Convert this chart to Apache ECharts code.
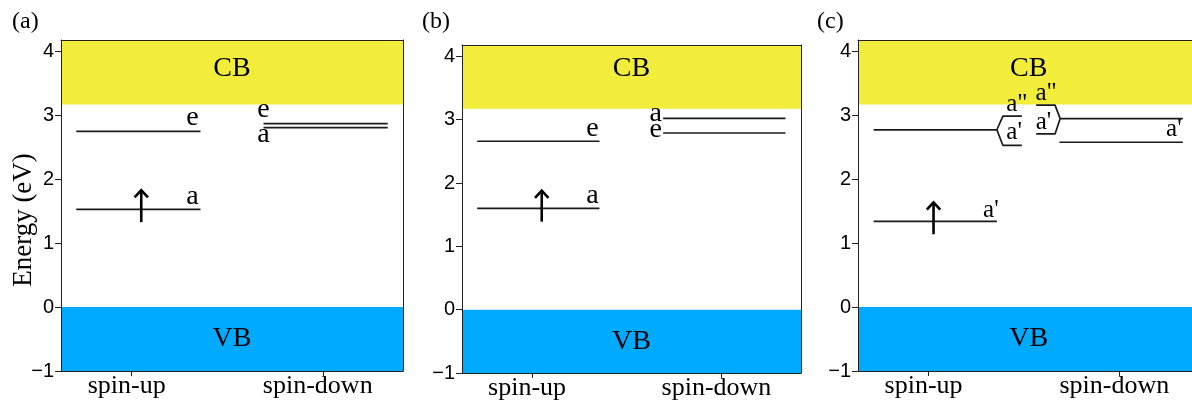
<!DOCTYPE html>
<html><head><meta charset="utf-8">
<script src="https://cdn.jsdelivr.net/npm/echarts@6/dist/echarts.min.js"></script>
<style>html,body{margin:0;padding:0;background:#fff}#c{width:1192px;height:403px}</style>
</head><body><div id="c"></div>
<script>
// ---------------- data ----------------
const panelNames = ['(a)', '(b)', '(c)'];
const xCategories = ['spin-up', 'spin-down'];   // at x = 0 and x = 1
const yTicks = [-1, 0, 1, 2, 3, 4];
const energyMin = -1, energyMax = 4.18;
const xMin = -0.37, xMax = [1.42, 1.42, 1.381];
const vbBand = [-1, 0];
const cbBottom = [3.17, 3.175, 3.17];
const cbLabelE = [3.73, 3.81, 3.73];
const vbLabelE = [-0.5, -0.5, -0.5];

// level paths: list of [x, energy] points (spin-up around x=0, spin-down around x=1)
const levelsA = [
  [[-0.29, 2.75], [0.36, 2.75]],
  [[-0.29, 1.53], [0.36, 1.53]],
  [[0.69, 2.87], [1.34, 2.87]],
  [[0.69, 2.81], [1.34, 2.81]]
];
const labelsA = [[0.36, 2.75, 'e'], [0.36, 1.53, 'a'], [0.69, 2.87, 'e'], [0.69, 2.81, 'a']];
const arrowA = [0.05, 1.33, 1.83];

const levelsB = [
  [[-0.29, 2.66], [0.356, 2.66]],
  [[-0.29, 1.60], [0.356, 1.60]],
  [[0.692, 3.02], [1.338, 3.02]],
  [[0.692, 2.79], [1.338, 2.79]]
];
const labelsB = [[0.356, 2.66, 'e'], [0.356, 1.60, 'a'], [0.692, 3.02, 'a'], [0.692, 2.79, 'e']];
const arrowB = [0.051, 1.39, 1.88];

const levelsC = [
  [[-0.288, 1.34], [0.358, 1.34]],
  [[-0.288, 2.775], [0.358, 2.775]],
  [[0.358, 2.775], [0.39, 2.99], [0.489, 2.99]],
  [[0.358, 2.775], [0.39, 2.53], [0.489, 2.53]],
  [[0.69, 2.95], [1.333, 2.95]],
  [[0.564, 3.16], [0.663, 3.16], [0.69, 2.95]],
  [[0.564, 2.71], [0.663, 2.71], [0.69, 2.95]],
  [[0.686, 2.58], [1.333, 2.58]]
];
const labelsC = [[0.358, 1.34, "a'"], [0.489, 2.99, 'a"'], [0.489, 2.53, "a'"],
                 [0.564, 3.16, 'a"'], [0.564, 2.71, "a'"], [1.333, 2.58, "a'"]];
const arrowC = [0.026, 1.14, 1.64];

// ---------------- styles ----------------
const labelOffsets = [
  [[-8, -14], [-8, -13], [0, -14], [0, 7]],
  [[-7, -13], [-7, -13], [-7.5, -4.7], [-7.5, -3.5]],
  [[-6, -11.4], [-5, -12], [-7.7, -13], [10, -11.3], [7.3, -11.8], [-9, -13.3]]
];
const labelFont = [28, 28, 25];
const grids = [
  {left: 61, right: 789, top: 40, bottom: 32},
  {left: 462, right: 391, top: 45, bottom: 30},
  {left: 858, right: 0, top: 40, bottom: 32}
];
const showRightSpine = [true, true, false];
const titlePos = [[12, 9.5], [422, 9.5], [817, 9.5]];
const SERIF = '"Liberation Serif", "Times New Roman", serif';
const SANS = '"Liberation Sans", Arial, sans-serif';
const YELLOW = '#F2EC3A', BLUE = '#00AAFF', INK = '#1a1a1a';

const panels = [
  {levels: levelsA, labels: labelsA, arrow: arrowA},
  {levels: levelsB, labels: labelsB, arrow: arrowB},
  {levels: levelsC, labels: labelsC, arrow: arrowC}
];

const xAxes = [], yAxes = [], series = [], titles = [];
panels.forEach((p, i) => {
  titles.push({text: panelNames[i], left: titlePos[i][0], top: titlePos[i][1], padding: 0,
    textStyle: {fontFamily: SERIF, fontSize: 24, fontWeight: 'normal', color: '#000'}});
});
for (let i = 0; i < 3; i++) {
  xAxes.push({gridIndex: i, type: 'value', min: xMin, max: xMax[i], z: 10,
    axisLine: {show: true, onZero: false, lineStyle: {color: '#222', width: 1}},
    axisTick: {show: true, customValues: [0, 1], length: 5, lineStyle: {color: '#222'}},
    axisLabel: {show: true, customValues: [0, 1], formatter: v => xCategories[Math.round(v)],
      fontFamily: SERIF, fontSize: 26, color: '#000', margin: 2, padding: [0, 10, 0, 0]},
    splitLine: {show: false}});
  yAxes.push({gridIndex: i, type: 'value', min: energyMin, max: energyMax, z: 10,
    axisLine: {show: true, onZero: false, lineStyle: {color: '#222', width: 1}},
    axisTick: {show: true, customValues: yTicks, length: 6, lineStyle: {color: '#222'}},
    axisLabel: {show: true, customValues: yTicks, formatter: v => String(v).replace('-', '\u2212'),
      fontFamily: SANS, fontSize: 20, color: '#000', margin: 7},
    splitLine: {show: false}});
}
for (let i = 0; i < 3; i++) {
  xAxes.push({gridIndex: i, type: 'value', position: 'top', min: xMin, max: xMax[i], z: 10,
    axisLine: {show: true, onZero: false, lineStyle: {color: '#222', width: 1}},
    axisTick: {show: false}, axisLabel: {show: false}, splitLine: {show: false}});
  yAxes.push({gridIndex: i, type: 'value', position: 'right', min: energyMin, max: energyMax, z: 10,
    axisLine: {show: showRightSpine[i], onZero: false, lineStyle: {color: '#222', width: 1}},
    axisTick: {show: false}, axisLabel: {show: false}, splitLine: {show: false}});
}

panels.forEach((p, i) => {
  series.push({type: 'custom', xAxisIndex: i, yAxisIndex: i, silent: true, z: 1,
    data: [[cbBottom[i], energyMax, cbLabelE[i], 0], [vbBand[0], vbBand[1], vbLabelE[i], 1]],
    renderItem: (params, api) => {
      const cs = params.coordSys;
      const y1 = api.coord([0, api.value(1)])[1];
      const y0 = api.coord([0, api.value(0)])[1];
      const yl = api.coord([0, api.value(2)])[1];
      const k = api.value(3);
      const cx = api.coord([(xMin + 1.42) / 2, 0])[0];
      return {type: 'group', children: [
        {type: 'rect', shape: {x: cs.x, y: y1, width: cs.width, height: y0 - y1},
          style: {fill: k === 0 ? YELLOW : BLUE}},
        {type: 'text', style: {text: k === 0 ? 'CB' : 'VB', x: cx, y: yl,
          align: 'center', verticalAlign: 'middle', fontSize: 28, fontFamily: SERIF, fill: '#000'}}
      ]};
    }});
  p.levels.forEach(path => {
    series.push({type: 'line', xAxisIndex: i, yAxisIndex: i, data: path, symbol: 'none',
      silent: true, z: 3, lineStyle: {color: INK, width: 1.7}, animation: false});
  });
  series.push({type: 'custom', xAxisIndex: i, yAxisIndex: i, silent: true, z: 4,
    data: p.labels.map((l, j) => [l[0], l[1], j]),
    renderItem: (params, api) => {
      const j = api.value(2);
      const pt = api.coord([api.value(0), api.value(1)]);
      const off = labelOffsets[i][j];
      return {type: 'text', style: {text: p.labels[j][2], x: pt[0] + off[0], y: pt[1] + off[1],
        align: 'center', verticalAlign: 'middle', fontSize: labelFont[i], fontFamily: SERIF, fill: '#000'}};
    }});
  series.push({type: 'custom', xAxisIndex: i, yAxisIndex: i, silent: true, z: 5,
    data: [p.arrow],
    renderItem: (params, api) => {
      const a = api.coord([api.value(0), api.value(1)]);
      const b = api.coord([api.value(0), api.value(2)]);
      const st = {stroke: '#000', lineWidth: 2.6, fill: null};
      return {type: 'group', children: [
        {type: 'polyline', shape: {points: [a, b]}, style: st},
        {type: 'polyline', shape: {points: [[b[0] - 6.7, b[1] + 7.3], [b[0], b[1]], [b[0] + 6.7, b[1] + 7.3]]}, style: st}
      ]};
    }});
});

const chart = echarts.init(document.getElementById('c'), null, {renderer: 'canvas'});
chart.setOption({
  animation: false,
  backgroundColor: '#fff',
  title: titles,
  grid: grids,
  xAxis: xAxes,
  yAxis: yAxes,
  series: series,
  graphic: [{type: 'text', x: 24, y: 220, rotation: Math.PI / 2,
    style: {text: 'Energy (eV)', fontSize: 27, fontFamily: SERIF, fill: '#000', align: 'center', verticalAlign: 'middle'}}]
});
</script></body></html>
